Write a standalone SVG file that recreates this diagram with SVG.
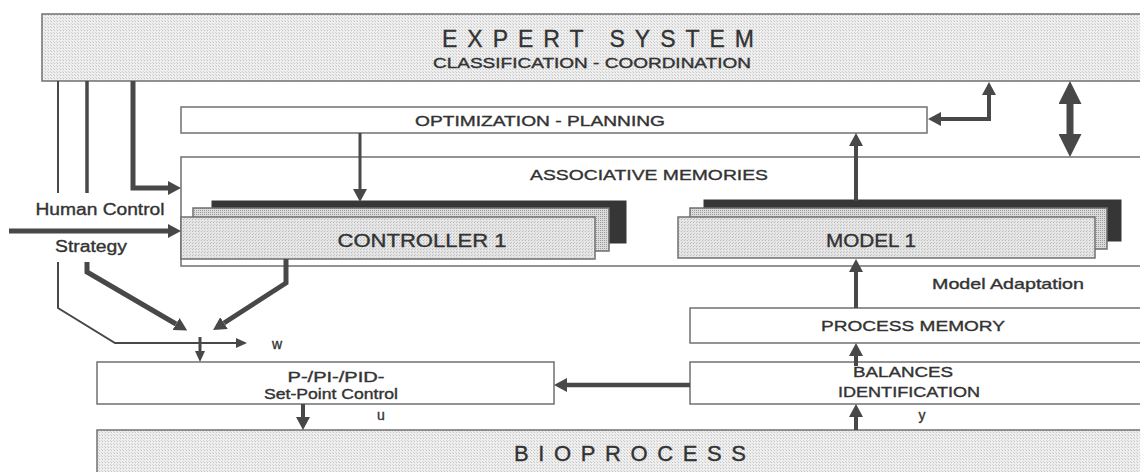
<svg xmlns="http://www.w3.org/2000/svg" width="1140" height="472" viewBox="0 0 1140 472">
<style>
.box{stroke:#707070;stroke-width:1.5}
.white{fill:#ffffff}
.t{font-family:"Liberation Sans",Arial,sans-serif;fill:#333333;stroke:#333333;stroke-width:0.35}
.c{stroke:#484848;fill:none;stroke-linejoin:miter}
</style>
<defs>
<pattern id="stip" width="3" height="3" patternUnits="userSpaceOnUse">
<rect width="3" height="3" fill="#eeeeee"/><rect width="1" height="1" fill="#c4c4c4"/><rect x="2" y="2" width="1" height="1" fill="#d4d4d4"/>
</pattern>
<pattern id="stip2" width="3" height="3" patternUnits="userSpaceOnUse">
<rect width="3" height="3" fill="#e6e6e6"/><rect width="1" height="1" fill="#b8b8b8"/><rect x="1" y="2" width="1" height="1" fill="#c8c8c8"/>
</pattern>
<pattern id="stip3" width="2" height="2" patternUnits="userSpaceOnUse">
<rect width="2" height="2" fill="#dcdcdc"/><rect width="1" height="1" fill="#9a9a9a"/>
</pattern>
<marker id="ah" markerUnits="userSpaceOnUse" markerWidth="13" markerHeight="14" viewBox="0 0 13 14" refX="0" refY="7" orient="auto-start-reverse"><path d="M0,0 L13,7 L0,14 z" fill="#484848"/></marker>
<marker id="ahS" markerUnits="userSpaceOnUse" markerWidth="11" markerHeight="10" viewBox="0 0 11 10" refX="0" refY="5" orient="auto-start-reverse"><path d="M0,0 L11,5 L0,10 z" fill="#484848"/></marker>
<marker id="ahB" markerUnits="userSpaceOnUse" markerWidth="23" markerHeight="23" viewBox="0 0 23 23" refX="0" refY="11.5" orient="auto-start-reverse"><path d="M0,0 L23,11.5 L0,23 z" fill="#484848"/></marker>
</defs>

<g id="expert-system">
<rect class="box" x="42" y="14" width="1110" height="67" fill="url(#stip)"/>
<text class="t" x="598" y="47" font-size="23" text-anchor="middle" textLength="312" lengthAdjust="spacing">EXPERT SYSTEM</text>
<text class="t" x="592" y="68" font-size="14" text-anchor="middle" textLength="318" lengthAdjust="spacingAndGlyphs">CLASSIFICATION - COORDINATION</text>
</g>

<g id="optimization-planning">
<rect class="box white" x="181" y="107" width="746" height="26"/>
<text class="t" x="540" y="126" font-size="14" text-anchor="middle" textLength="250" lengthAdjust="spacingAndGlyphs">OPTIMIZATION - PLANNING</text>
</g>

<g id="associative-memories">
<rect class="box white" x="181" y="157" width="970" height="109"/>
<text class="t" x="649" y="180" font-size="15" text-anchor="middle" textLength="238" lengthAdjust="spacingAndGlyphs">ASSOCIATIVE MEMORIES</text>
</g>

<g id="controller-1">
<rect x="212" y="201" width="414" height="42" fill="#363636" stroke="#363636"/>
<rect class="box" x="193" y="208" width="416" height="43" fill="url(#stip3)"/>
<rect class="box" x="181" y="217" width="414" height="42" fill="url(#stip2)"/>
<text class="t" x="422" y="247" font-size="18" text-anchor="middle" textLength="169" lengthAdjust="spacingAndGlyphs">CONTROLLER 1</text>
</g>

<g id="model-1">
<rect x="704" y="200" width="417" height="41" fill="#363636" stroke="#363636"/>
<rect class="box" x="690" y="208" width="417" height="41" fill="url(#stip3)"/>
<rect class="box" x="678" y="217" width="417" height="41" fill="url(#stip2)"/>
<text class="t" x="871" y="247" font-size="18" text-anchor="middle" textLength="90" lengthAdjust="spacingAndGlyphs">MODEL 1</text>
</g>

<g id="process-memory">
<rect class="box white" x="690" y="308" width="460" height="35"/>
<text class="t" x="913" y="331" font-size="15" text-anchor="middle" textLength="184" lengthAdjust="spacingAndGlyphs">PROCESS MEMORY</text>
</g>

<g id="balances-identification">
<rect class="box white" x="690" y="362" width="460" height="42"/>
<text class="t" x="903" y="377" font-size="14" text-anchor="middle" textLength="100" lengthAdjust="spacingAndGlyphs">BALANCES</text>
<text class="t" x="909" y="397" font-size="14" text-anchor="middle" textLength="142" lengthAdjust="spacingAndGlyphs">IDENTIFICATION</text>
</g>

<g id="set-point-control">
<rect class="box white" x="97" y="362" width="457" height="42"/>
<text class="t" x="336" y="382" font-size="14" text-anchor="middle" textLength="97" lengthAdjust="spacingAndGlyphs">P-/PI-/PID-</text>
<text class="t" x="331" y="399" font-size="14" text-anchor="middle" textLength="134" lengthAdjust="spacingAndGlyphs">Set-Point Control</text>
</g>

<g id="bioprocess">
<rect class="box" x="97" y="430" width="1060" height="50" fill="url(#stip)"/>
<text class="t" x="630" y="461" font-size="22" text-anchor="middle" textLength="232" lengthAdjust="spacing">BIOPROCESS</text>
</g>

<g id="labels">
<text class="t" x="100" y="215" font-size="16" text-anchor="middle" textLength="129" lengthAdjust="spacingAndGlyphs">Human Control</text>
<text class="t" x="91" y="252" font-size="16" text-anchor="middle" textLength="72" lengthAdjust="spacingAndGlyphs">Strategy</text>
<text class="t" x="1008" y="289" font-size="15" text-anchor="middle" textLength="152" lengthAdjust="spacingAndGlyphs">Model Adaptation</text>
<text class="t" x="277" y="349" font-size="14" text-anchor="middle">w</text>
<text class="t" x="381" y="420" font-size="14" text-anchor="middle">u</text>
<text class="t" x="922" y="420" font-size="14" text-anchor="middle">y</text>
</g>

<g id="connectors">
<path class="c" d="M133,81 V188 H168" stroke-width="5" marker-end="url(#ah)"/>
<path class="c" d="M9,231 H168" stroke-width="5" marker-end="url(#ah)"/>
<path class="c" d="M87,81 V193" stroke-width="3.5"/>
<path class="c" d="M87,262 V272 L176,324" stroke-width="5" marker-end="url(#ah)"/>
<path class="c" d="M58,81 V193" stroke-width="2"/>
<path class="c" d="M58,262 V308 L115,343 H236" stroke-width="2" marker-end="url(#ahS)"/>
<path class="c" d="M286,259 V283 L224,323" stroke-width="5" marker-end="url(#ah)"/>
<path class="c" d="M200,337 V351" stroke-width="3" marker-end="url(#ahS)"/>
<path class="c" d="M360,133 V189" stroke-width="3" marker-end="url(#ah)"/>
<path class="c" d="M303,404 V417" stroke-width="4" marker-end="url(#ah)"/>
<path class="c" d="M856,430 V417" stroke-width="4" marker-end="url(#ah)"/>
<path class="c" d="M856,366 V356" stroke-width="4" marker-end="url(#ah)"/>
<path class="c" d="M856,308 V272" stroke-width="4" marker-end="url(#ah)"/>
<path class="c" d="M856,201 V146" stroke-width="4" marker-end="url(#ah)"/>
<path class="c" d="M690,385 H567" stroke-width="4.5" marker-end="url(#ah)"/>
<path class="c" d="M941,119 H989 V95" stroke-width="4" marker-start="url(#ah)" marker-end="url(#ah)"/>
<path class="c" d="M1070,104 V134" stroke-width="7" marker-start="url(#ahB)" marker-end="url(#ahB)"/>
</g>
</svg>
